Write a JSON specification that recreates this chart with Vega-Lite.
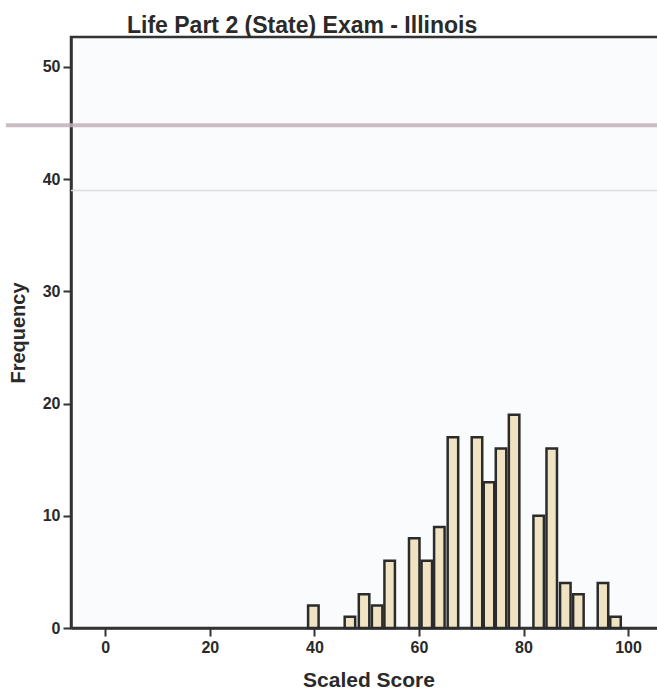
{
  "$schema": "https://vega.github.io/schema/vega-lite/v6.json",
  "autosize": {"type": "none"},
  "padding": {"left": 71, "top": 37, "right": 0, "bottom": 66},
  "width": 595,
  "height": 591,
  "background": "#ffffff",
  "title": {
    "text": "Life Part 2 (State) Exam - Illinois",
    "anchor": "start",
    "frame": "group",
    "dx": 56,
    "offset": -24,
    "baseline": "bottom",
    "font": "Liberation Sans",
    "fontSize": 23,
    "fontWeight": "bold",
    "color": "#2a2a2a"
  },
  "config": {
    "view": {"stroke": "#333333", "strokeWidth": 2.5, "fill": "#fafbfc"},
    "axis": {
      "grid": false,
      "domainColor": "#333333",
      "domainWidth": 2.5,
      "tickColor": "#333333",
      "tickWidth": 2,
      "tickSize": 8,
      "labelFont": "Liberation Sans",
      "labelFontSize": 16,
      "labelFontWeight": "bold",
      "labelColor": "#2a2a2a",
      "labelPadding": 3,
      "titleFont": "Liberation Sans",
      "titleFontWeight": "bold",
      "titleColor": "#2a2a2a"
    }
  },
  "datasets": {
    "hist": [
      {"score": 39.8, "count": 2},
      {"score": 46.8, "count": 1},
      {"score": 49.5, "count": 3},
      {"score": 52.0, "count": 2},
      {"score": 54.4, "count": 6},
      {"score": 59.1, "count": 8},
      {"score": 61.5, "count": 6},
      {"score": 63.9, "count": 9},
      {"score": 66.5, "count": 17},
      {"score": 71.1, "count": 17},
      {"score": 73.4, "count": 13},
      {"score": 75.7, "count": 16},
      {"score": 78.2, "count": 19},
      {"score": 82.9, "count": 10},
      {"score": 85.4, "count": 16},
      {"score": 88.0, "count": 4},
      {"score": 90.5, "count": 3},
      {"score": 95.2, "count": 4},
      {"score": 97.6, "count": 1}
    ],
    "lines": [
      {"level": 44.8, "kind": "band"},
      {"level": 39.0, "kind": "thin"}
    ]
  },
  "layer": [
    {
      "data": {"name": "lines"},
      "transform": [{"filter": "datum.kind == 'band'"}],
      "mark": {"type": "rule", "color": "#c2b0ba", "strokeWidth": 4, "opacity": 0.85, "clip": false},
      "encoding": {
        "y": {"field": "level", "type": "quantitative"},
        "x": {"datum": -19, "type": "quantitative"},
        "x2": {"datum": 106.3}
      }
    },
    {
      "data": {"name": "lines"},
      "transform": [{"filter": "datum.kind == 'thin'"}],
      "mark": {"type": "rule", "color": "#dcdcdc", "strokeWidth": 1.5},
      "encoding": {
        "y": {"field": "level", "type": "quantitative"}
      }
    },
    {
      "data": {"name": "hist"},
      "mark": {"type": "bar", "fill": "#efe3c3", "stroke": "#2b2b2b", "strokeWidth": 2.5, "size": 10.5},
      "encoding": {
        "x": {
          "field": "score",
          "type": "quantitative",
          "title": "Scaled Score",
          "scale": {"domain": [-5.6, 106.3], "nice": false, "zero": false},
          "axis": {"values": [0, 20, 40, 60, 80, 100], "titleFontSize": 21, "titlePadding": 14}
        },
        "y": {
          "field": "count",
          "type": "quantitative",
          "title": "Frequency",
          "scale": {"domain": [0, 52.67], "nice": false},
          "axis": {"values": [0, 10, 20, 30, 40, 50], "titleFontSize": 20, "titlePadding": 14}
        }
      }
    }
  ]
}
